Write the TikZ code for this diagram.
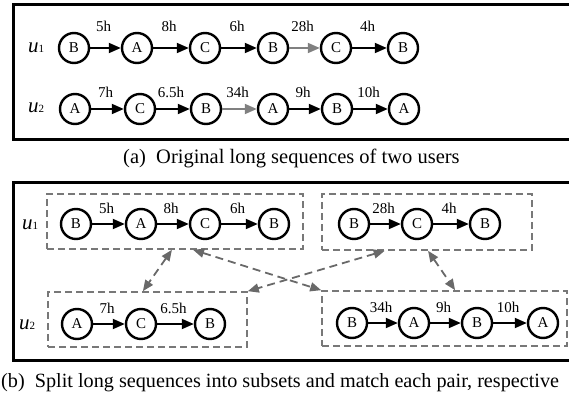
\documentclass[tikz,border=0pt]{standalone}
\usepackage{fontspec}
\setmainfont{Liberation Serif}
\usetikzlibrary{arrows.meta,calc}
\definecolor{dgray}{RGB}{120,120,120}
\definecolor{agray}{RGB}{128,128,128}
\definecolor{darrgray}{RGB}{105,105,105}
\tikzset{
 st/.style={circle,draw,line width=2.4pt,minimum size=30pt,inner sep=0pt,font=\fontsize{15}{15}\selectfont},
 arr/.style={line width=1.8pt,-{Triangle[length=12pt,width=10pt]}},
 garr/.style={arr,color=agray},
 lbl/.style={anchor=base,inner sep=0pt,text=black,font=\fontsize{15}{15}\selectfont,xshift=-2pt},
 frame/.style={line width=3pt},
 dbox/.style={draw=dgray,line width=1.6pt,dash pattern=on 7pt off 4pt,inner sep=0pt},
 darr/.style={color=darrgray,line width=1.8pt,dash pattern=on 8pt off 5pt,{Triangle[length=11pt,width=9pt]}-{Triangle[length=11pt,width=9pt]}},
 ulbl/.style={anchor=base west,inner sep=0pt},
 captxt/.style={anchor=base west,inner sep=0pt,font=\fontsize{20.5}{20.5}\selectfont},
}
\newcommand{\ulab}[1]{{\fontsize{21}{21}\selectfont\itshape u}{\fontsize{11}{11}\selectfont #1}}
\begin{document}
\begin{tikzpicture}[x=1pt,y=-1pt]
\useasboundingbox (0,0) rectangle (569,398);
\clip (0,0) rectangle (569,398);
% frames
\draw[frame] (13,5) rectangle (590,140);
\draw[frame] (13,182) rectangle (590,360);
% captions
\node[captxt] (capa) at (123,164) {(a)\enspace Original long sequences of two users};
\node[captxt,font=\fontsize{20.2}{20.2}\selectfont] (capb) at (1,387) {(b)\enspace Split long sequences into subsets and match each pair, respective};
% ---------- top section ----------
\node[ulbl] (ta) at (28,53) {\ulab{1}};
\node[ulbl] (tb) at (28,113) {\ulab{2}};
\node[st] (a1) at (74,48) {B};
\node[st] (a2) at (137,48) {A};
\node[st] (a3) at (205,48) {C};
\node[st] (a4) at (273,48) {B};
\node[st] (a5) at (336,48) {C};
\node[st] (a6) at (403,48) {B};
\draw[arr] (a1) -- node[lbl,yshift=16pt] {5h} (a2);
\draw[arr] (a2) -- node[lbl,yshift=16pt] {8h} (a3);
\draw[arr] (a3) -- node[lbl,yshift=16pt] {6h} (a4);
\draw[garr] (a4) -- node[lbl,yshift=16pt] {28h} (a5);
\draw[arr] (a5) -- node[lbl,yshift=16pt] {4h} (a6);
\node[st] (b1) at (75,109) {A};
\node[st] (b2) at (140,109) {C};
\node[st] (b3) at (206,109) {B};
\node[st] (b4) at (273,109) {A};
\node[st] (b5) at (337,109) {B};
\node[st] (b6) at (404,109) {A};
\draw[arr] (b1) -- node[lbl,yshift=11pt] {7h} (b2);
\draw[arr] (b2) -- node[lbl,yshift=11pt] {6.5h} (b3);
\draw[garr] (b3) -- node[lbl,yshift=11pt] {34h} (b4);
\draw[arr] (b4) -- node[lbl,yshift=11pt] {9h} (b5);
\draw[arr] (b5) -- node[lbl,yshift=11pt] {10h} (b6);
% ---------- bottom section ----------
\node[ulbl] (bu1) at (22,229) {\ulab{1}};
\node[ulbl] (bu2) at (19,329) {\ulab{2}};
\node[dbox,minimum width=256pt,minimum height=55pt] (box1) at (175,221.5) {};
\node[dbox,minimum width=210pt,minimum height=56pt] (box2) at (427,222) {};
\node[dbox,minimum width=199pt,minimum height=55pt] (box3) at (147.5,319.5) {};
\node[dbox,minimum width=245pt,minimum height=55pt] (box4) at (444.5,318.5) {};
\node[st] (c1) at (76,224) {B};
\node[st] (c2) at (141,224) {A};
\node[st] (c3) at (205,224) {C};
\node[st] (c4) at (274,224) {B};
\draw[arr] (c1) -- node[lbl,yshift=11pt] {5h} (c2);
\draw[arr] (c2) -- node[lbl,yshift=11pt] {8h} (c3);
\draw[arr] (c3) -- node[lbl,yshift=11pt] {6h} (c4);
\node[st] (d1) at (354,224) {B};
\node[st] (d2) at (417,224) {C};
\node[st] (d3) at (485,224) {B};
\draw[arr] (d1) -- node[lbl,yshift=11pt] {28h} (d2);
\draw[arr] (d2) -- node[lbl,yshift=11pt] {4h} (d3);
\node[st] (e1) at (77,324) {A};
\node[st] (e2) at (141,324) {C};
\node[st] (e3) at (210,324) {B};
\draw[arr] (e1) -- node[lbl,yshift=11pt] {7h} (e2);
\draw[arr] (e2) -- node[lbl,yshift=11pt] {6.5h} (e3);
\node[st] (f1) at (352,323) {B};
\node[st] (f2) at (414,323) {A};
\node[st] (f3) at (477,323) {B};
\node[st] (f4) at (543,323) {A};
\draw[arr] (f1) -- node[lbl,yshift=11pt] {34h} (f2);
\draw[arr] (f2) -- node[lbl,yshift=11pt] {9h} (f3);
\draw[arr] (f3) -- node[lbl,yshift=11pt] {10h} (f4);
% matching arrows
\coordinate (p1) at ($(box1.south west)!0.488!(box1.south east)$);
\coordinate (p2) at ($(box1.south west)!0.57!(box1.south east)$);
\coordinate (q1) at ($(box3.north west)!0.477!(box3.north east)$);
\coordinate (q2) at (box3.north east);
\coordinate (r1) at ($(box2.south west)!0.30!(box2.south east)$);
\coordinate (r2) at ($(box2.south west)!0.505!(box2.south east)$);
\coordinate (s1) at (box4.north west);
\coordinate (s2) at ($(box4.north west)!0.543!(box4.north east)$);
\draw[darr] (p1) -- (q1);
\draw[darr] (p2) -- (s1);
\draw[darr] (r1) -- (q2);
\draw[darr] (r2) -- (s2);
\end{tikzpicture}
\end{document}
